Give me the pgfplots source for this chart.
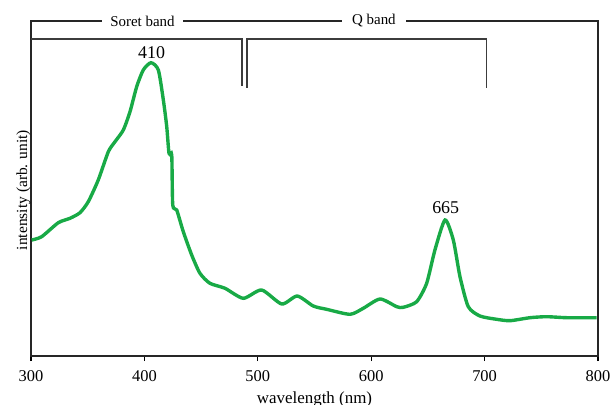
\documentclass[border=0pt]{standalone}
\usepackage{pgfplots}
\pgfplotsset{compat=1.18}
\usepackage{fontspec}
\setmainfont{Liberation Serif}
\usetikzlibrary{calc}
\definecolor{specgreen}{RGB}{24,170,70}
\definecolor{brk}{RGB}{60,60,60}

\begin{document}
\begin{tikzpicture}
\begin{axis}[
    width=567bp, height=335bp, scale only axis,
    xmin=300, xmax=800, ymin=0, ymax=335,
    xtick={300,400,...,800},
    ytick=\empty,
    tick align=outside,
    xtick pos=bottom,
    major tick length=5bp,
    axis line style={line width=1.3pt, black!85},
    tick style={line width=1.2pt, black},
    xticklabel style={font=\fontsize{16.5}{19}\selectfont, yshift=-6bp},
    /pgf/number format/assume math mode=true,
    clip=false,
]
\addplot[specgreen, line width=3.4pt, smooth, tension=0.4] coordinates {
    (300.6,116) (309.4,119.3) (324.1,133.3) (334.4,137.7) (343.2,143.3)
    (350.5,154.3) (359.3,176) (368.2,204.3) (374.1,214.3) (381.4,226)
    (387.3,244.3) (393.2,269.3) (399.0,286) (405.8,293.3) (412.3,286)
    (416.7,256) (419.7,229.3) (421.7,202.7) (424.1,201) (425.0,151)
    (428.5,146) (434.3,124.3) (441.7,101) (449.0,82.7) (457.8,72.7)
    (471.1,67.7) (487.2,57.7) (503.4,66) (521.1,52) (534.8,60)
    (548.9,50) (560.7,46.7) (581.3,41.7) (593.0,47.7) (607.8,57)
    (622.5,49.3) (628.3,48.7) (640.1,54.3) (648.9,72.7) (656.2,106)
    (665.1,136) (672.4,116) (678.3,79.3) (685.6,49.3) (695.9,40)
    (710.6,36.7) (722.4,35.3) (740.0,38.3) (754.7,39.3) (772.4,38.3)
    (798.8,38.3)
};
% band brackets
\draw[brk, line width=1.2pt] (axis cs:300,317) -- (axis cs:486,317) -- (axis cs:486,270);
\draw[brk, line width=1.2pt] (axis cs:490.5,268) -- (axis cs:490.5,317) -- (axis cs:702,317) -- (axis cs:702,268);
\node[fill=white, inner xsep=8bp, inner ysep=1bp, font=\fontsize{15}{18}\selectfont] at (axis cs:398.3,335) {Soret band};
\node[fill=white, inner xsep=10bp, inner ysep=1bp, font=\fontsize{15}{18}\selectfont] at (axis cs:602.4,335) {Q band};
% peak labels
\node[font=\fontsize{18}{21}\selectfont] at (axis cs:406.4,303) {410};
\node[font=\fontsize{18}{21}\selectfont] at (axis cs:665.7,148) {665};
\coordinate (XL) at (axis cs:550,0);
\coordinate (YL) at (axis cs:300,166);
\coordinate (SW) at (rel axis cs:0,0);
\coordinate (NE) at (rel axis cs:1,1);
\end{axis}
% axis titles
\node[anchor=base, font=\fontsize{17}{20}\selectfont] at ($(XL)+(0,-47bp)$) {wavelength (nm)};
\node[anchor=base, rotate=90, font=\fontsize{15.5}{18}\selectfont] at ($(YL)+(-4bp,0)$) {intensity (arb. unit)};
\pgfresetboundingbox
\path[use as bounding box] ($(SW)+(-31bp,-49bp)$) rectangle ($(NE)+(13bp,21bp)$);
\end{tikzpicture}
\end{document}
